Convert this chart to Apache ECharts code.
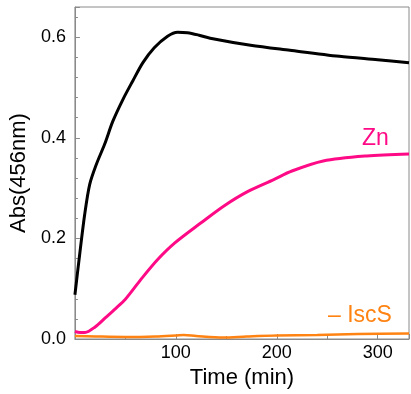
<!DOCTYPE html>
<html><head><meta charset="utf-8">
<script src="https://cdn.jsdelivr.net/npm/echarts@6/dist/echarts.min.js"></script>
<style>html,body{margin:0;padding:0;background:#fff}#c{width:411px;height:394px}</style>
</head><body><div id="c"></div>
<script>
const blackT = [0, 4.7, 9.7, 14.6, 21.2, 29.4, 37.6, 47.5, 57.3, 67.2, 78.6, 91.8, 101.7, 111.5, 123, 134, 174, 213, 262, 300, 331];
const blackV = [0.088, 0.168, 0.248, 0.307, 0.347, 0.387, 0.433, 0.476, 0.513, 0.549, 0.579, 0.602, 0.610, 0.609, 0.604, 0.598, 0.584, 0.574, 0.562, 0.555, 0.549];
const znT = [0, 5, 10, 20, 30, 40, 50, 66, 82, 99, 125, 148, 171, 197, 215, 246, 289, 331];
const znV = [0.015, 0.013, 0.013, 0.024, 0.042, 0.06, 0.079, 0.12, 0.158, 0.191, 0.231, 0.265, 0.293, 0.317, 0.334, 0.354, 0.364, 0.368];
const iscT = [0, 20, 50, 80, 100, 108, 120, 147, 170, 200, 240, 280, 331];
const iscV = [0.006, 0.005, 0.004, 0.005, 0.007, 0.008, 0.006, 0.003, 0.005, 0.007, 0.008, 0.01, 0.011];
const yTicks = ['0.0', '0.2', '0.4', '0.6'];

const pair = (t, v) => t.map((x, i) => [x, v[i]]);
const font = '"Liberation Sans", Arial, sans-serif';
const axisCol = '#8a8a8a';
const chart = echarts.init(document.getElementById('c'), null, {renderer: 'canvas'});
chart.setOption({
  animation: false,
  grid: {left: 74, right: 2, top: 7, bottom: 55, show: true, borderColor: axisCol, borderWidth: 1},
  xAxis: {
    type: 'value', min: 0, max: 331, interval: 100,
    name: 'Time (min)', nameLocation: 'middle', nameGap: 26,
    nameTextStyle: {fontSize: 22, color: '#000', fontFamily: font},
    axisLine: {show: true, lineStyle: {color: axisCol}},
    axisTick: {show: true, inside: true, length: 5, lineStyle: {color: axisCol}},
    minorTick: {show: true, splitNumber: 2, length: 3, lineStyle: {color: axisCol}},
    axisLabel: {fontSize: 18, color: '#000', fontFamily: font, margin: 5, showMinLabel: false, showMaxLabel: false},
    splitLine: {show: false}
  },
  yAxis: {
    type: 'value', min: 0, max: 0.66, interval: 0.2,
    name: 'Abs(456nm)', nameLocation: 'middle', nameGap: 39,
    nameTextStyle: {fontSize: 22, color: '#000', fontFamily: font},
    axisLine: {show: true, lineStyle: {color: axisCol}},
    axisTick: {show: true, inside: true, length: 5, lineStyle: {color: axisCol}},
    minorTick: {show: true, splitNumber: 5, length: 3, lineStyle: {color: axisCol}},
    axisLabel: {fontSize: 18, color: '#000', fontFamily: font, margin: 9, showMaxLabel: false,
      formatter: v => { const i = Math.round(v / 0.2); return Math.abs(v - i * 0.2) < 1e-6 ? (yTicks[i] || '') : ''; }},
    splitLine: {show: false}
  },
  series: [
    {type: 'line', data: pair(blackT, blackV), smooth: 0.3, symbol: 'none', lineStyle: {color: '#000', width: 3}},
    {type: 'line', data: pair(znT, znV), smooth: 0.3, symbol: 'none', lineStyle: {color: '#FF0A86', width: 3}},
    {type: 'line', data: pair(iscT, iscV), smooth: 0.3, symbol: 'none', lineStyle: {color: '#FF8312', width: 2.5}}
  ],
  graphic: [
    {type: 'text', left: 362, top: 127, style: {text: 'Zn', fill: '#FF0A86', font: '23px ' + font}},
    {type: 'text', left: 328, top: 304, style: {text: '– IscS', fill: '#FF8312', font: '23px ' + font}}
  ]
});
</script></body></html>
